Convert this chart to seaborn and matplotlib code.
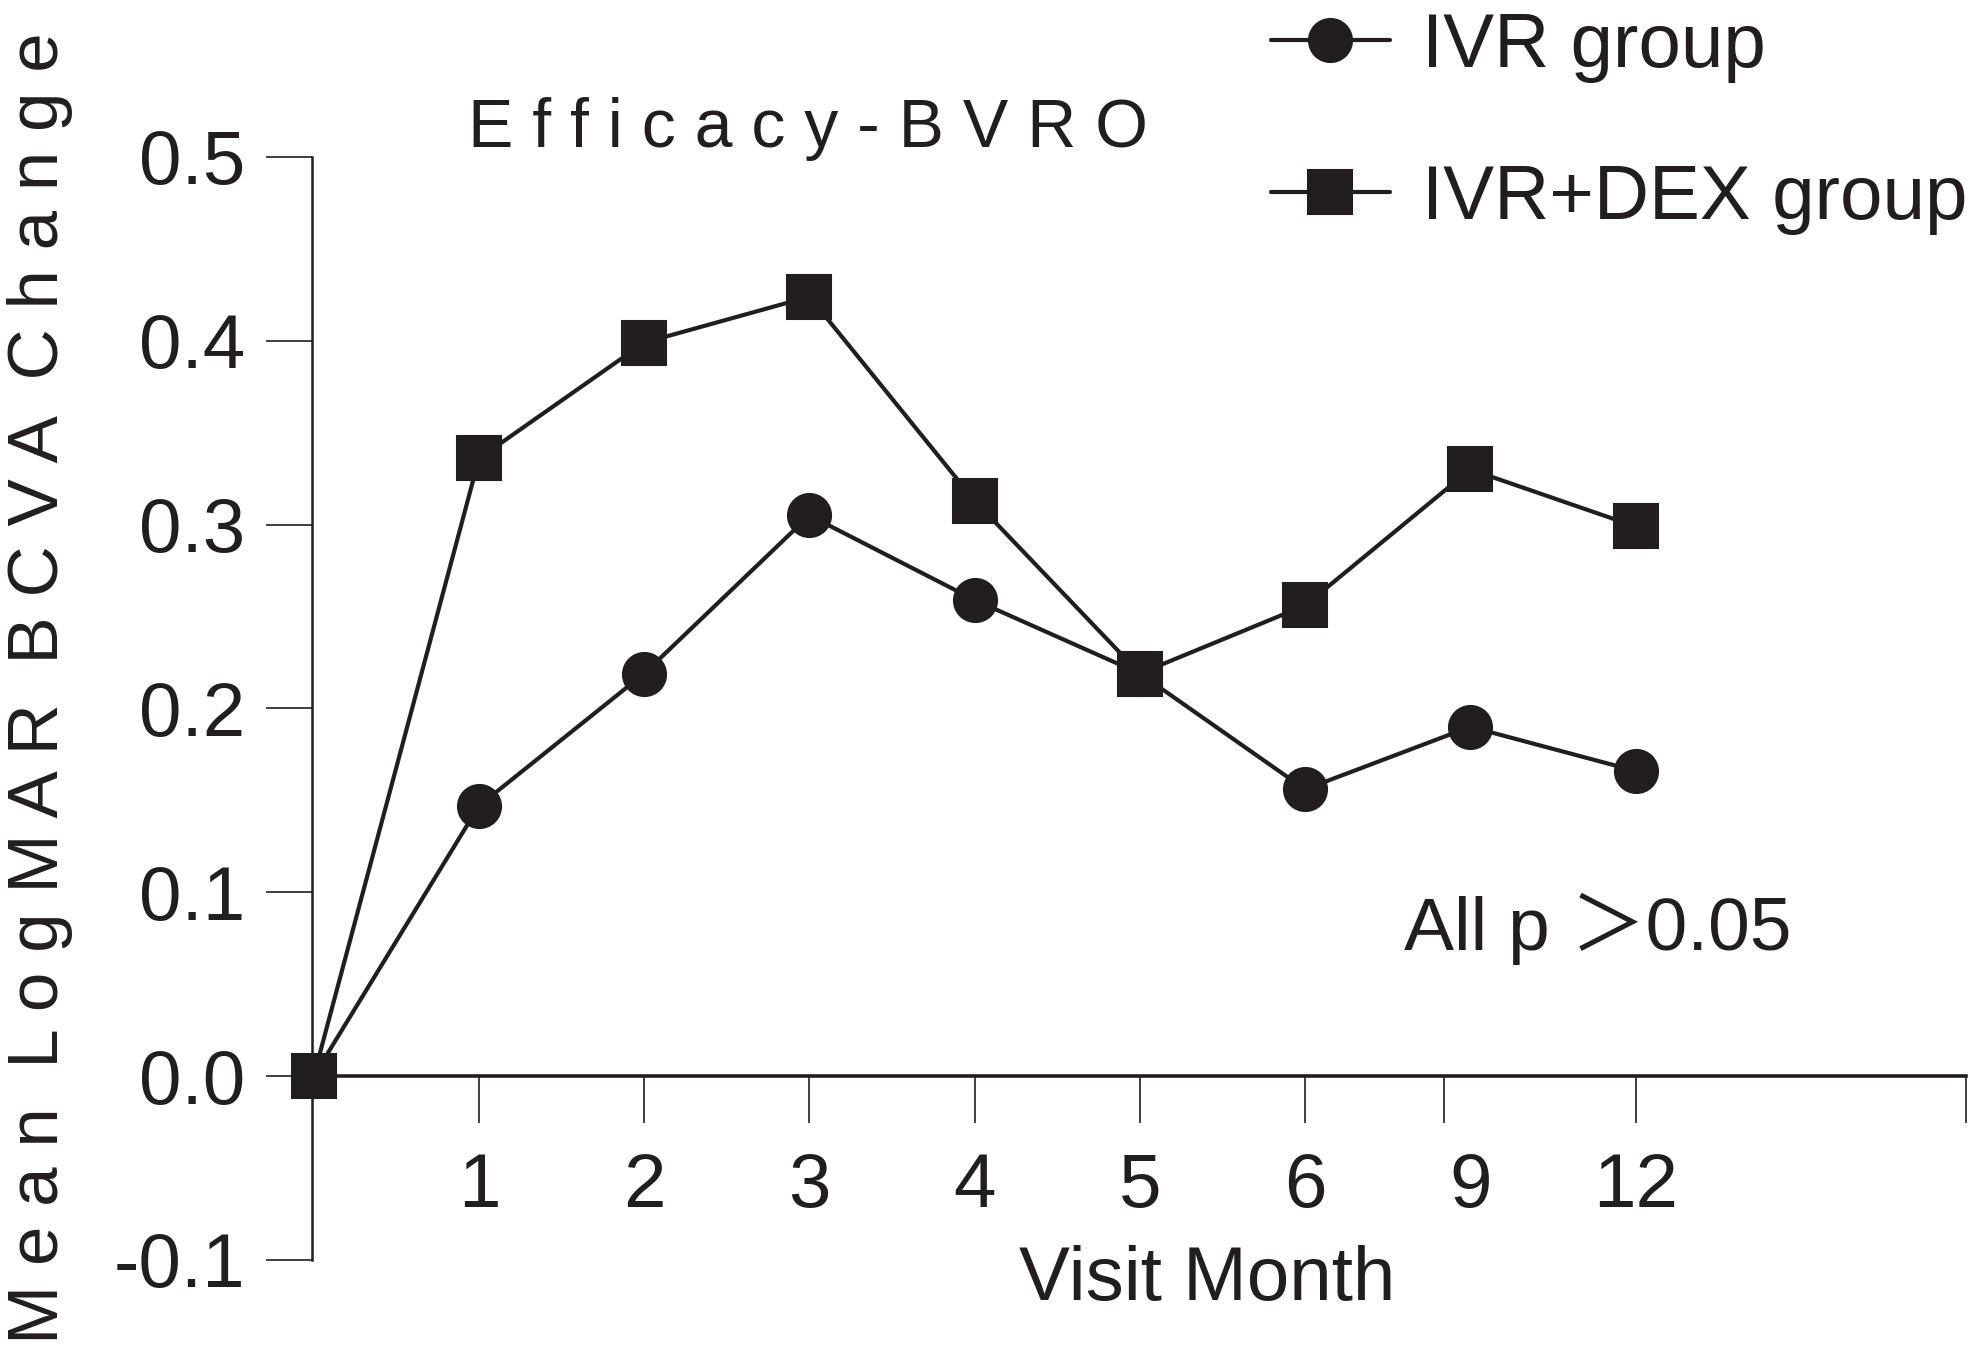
import numpy as np
import pandas as pd
import matplotlib
matplotlib.use("Agg")
import matplotlib.pyplot as plt
from matplotlib.ticker import FixedLocator
import seaborn as sns

# ---- data ----
months = ["0", "1", "2", "3", "4", "5", "6", "9", "12"]
ivr = [0.0, 0.147, 0.219, 0.305, 0.259, 0.219, 0.156, 0.190, 0.166]
ivr_dex = [0.0, 0.336, 0.399, 0.424, 0.313, 0.219, 0.256, 0.330, 0.299]
series_names = ["IVR group", "IVR+DEX group"]
y_ticks = [-0.1, 0.0, 0.1, 0.2, 0.3, 0.4, 0.5]
y_tick_labels = ["-0.1", "0.0", "0.1", "0.2", "0.3", "0.4", "0.5"]
title_text = "E f f i c a c y - B V R O"
ylabel_text = "M e a n  L o g M A R  B C V A  C h a n g e"
xlabel_text = "Visit Month"
note_text = "All p \uFF1E0.05"

pos = np.arange(len(months))
df = pd.DataFrame({
    "pos": np.concatenate([pos, pos]),
    "value": ivr + ivr_dex,
    "group": [series_names[0]] * len(months) + [series_names[1]] * len(months),
})

# ---- style ----
sns.set_style("ticks")
plt.rcParams["font.family"] = ["Liberation Sans", "DejaVu Sans"]
ink = "#221e1f"

fig = plt.figure(figsize=(19.83, 13.65), dpi=100)
ax = fig.add_axes([0.1574, 0.0770, 0.9914 - 0.1574, 0.8850 - 0.0770])

markers = {series_names[0]: "o", series_names[1]: "s"}
for name in series_names:
    sub = df[df["group"] == name]
    sns.lineplot(data=sub, x="pos", y="value", ax=ax, color=ink,
                 marker=markers[name], markersize=31, markeredgewidth=1.5,
                 markeredgecolor=ink, markerfacecolor=ink, linewidth=3.0,
                 label=name, clip_on=False, zorder=3, errorbar=None)

handles, labels = ax.get_legend_handles_labels()
if ax.get_legend() is not None:
    ax.get_legend().remove()

ax.set_xlim(-0.01, 10)
ax.set_ylim(-0.1, 0.5)
ax.set_xlabel("")
ax.set_ylabel("")
ax.grid(False)

for s in ["top", "right"]:
    ax.spines[s].set_visible(False)
ax.spines["bottom"].set_position(("data", 0))
ax.spines["bottom"].set_linewidth(2.6)
ax.spines["bottom"].set_color(ink)
ax.spines["left"].set_linewidth(1.8)
ax.spines["left"].set_color(ink)

ax.set_yticks(y_ticks)
ax.set_yticklabels(y_tick_labels)
ax.tick_params(axis="y", which="major", left=True, direction="out", length=33,
               width=1.2, pad=15, labelsize=55, color=ink, labelcolor=ink)

ax.set_xticks(pos[1:])
ax.set_xticklabels(months[1:])
ax.tick_params(axis="x", which="major", bottom=True, length=0, pad=55,
               labelsize=55, labelcolor=ink)
tick_marks = [1, 2, 3, 4, 5, 6, 6.84, 8, 10]
ax.xaxis.remove_overlapping_locs = False
ax.xaxis.set_minor_locator(FixedLocator(tick_marks))
ax.tick_params(axis="x", which="minor", bottom=True, direction="out",
               length=34, width=1.2, color=ink)

fig.text(0.236, 0.8923, title_text, fontsize=49, ha="left", va="baseline", color=ink)
fig.text(0.0202, 0.496, ylabel_text, fontsize=51, rotation=90,
         ha="center", va="center", color=ink)
fig.text(0.609, 0.0476, xlabel_text, fontsize=55, ha="center", va="baseline", color=ink)
fig.text(0.708, 0.304, note_text, fontsize=54, ha="left", va="baseline", color=ink,
         family=["Liberation Sans", "Noto Sans CJK SC", "DejaVu Sans"])

fig.legend(handles, labels, loc="center left", bbox_to_anchor=(0.641, 0.9095),
           frameon=False, fontsize=55, handlelength=1.55, handletextpad=0.42,
           labelspacing=1.06, borderpad=0, borderaxespad=0, labelcolor=ink)

fig.savefig("out.png", dpi=100)
